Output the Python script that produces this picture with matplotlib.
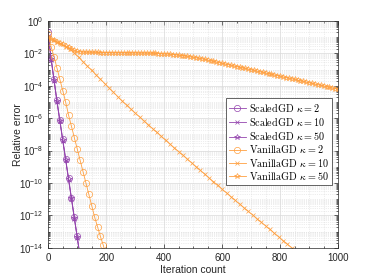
import numpy as np
import matplotlib
matplotlib.use("Agg")
import matplotlib.pyplot as plt
from matplotlib.ticker import LogLocator, MultipleLocator, NullFormatter

# ---------------- data (log10 of relative error) ----------------
sc_iters = [0, 10, 20, 30, 40, 50, 60, 70, 80, 90, 100, 110]
sc_k2 = [-0.7, -2.3, -3.6, -4.9, -6.1, -7.3, -8.5, -9.7, -10.9, -12.1, -13.3, -14.5]
sc_k10 = [-1.0, -2.4, -3.7, -5.0, -6.2, -7.4, -8.6, -9.8, -11.0, -12.2, -13.4, -14.6]
sc_k50 = [-1.0, -2.35, -3.65, -4.95, -6.15, -7.35, -8.55, -9.75, -10.95, -12.15, -13.35, -14.55]

va2_iters = [0, 10, 20, 30, 40, 50, 60, 70, 80, 90, 100, 110, 120, 130, 140, 150,
             160, 170, 180, 190, 200]
va_k2 = [-0.8, -1.6, -2.2, -2.9, -3.6, -4.3, -5.0, -5.8, -6.5, -7.2, -7.9, -8.6,
         -9.3, -10.0, -10.7, -11.4, -12.1, -12.7, -13.3, -13.85, -14.5]

va10_iters = [0, 15, 30, 45, 60, 75, 90, 105, 120, 135, 150, 165, 180, 195, 210,
              225, 240, 255, 270, 285, 300, 315, 330, 345, 360, 375, 390, 405, 420,
              435, 450, 465, 480, 495, 510, 525, 540, 555, 570, 585, 600, 615, 630,
              645, 660, 675, 690, 705, 720, 735, 750, 765, 780, 795, 810, 825, 840, 855]
va_k10 = [-1.0, -1.15, -1.3, -1.45, -1.6, -1.75, -1.97, -2.24, -2.51, -2.78, -3.05,
          -3.32, -3.59, -3.86, -4.13, -4.40, -4.67, -4.93, -5.19, -5.44, -5.68, -5.92,
          -6.16, -6.40, -6.64, -6.88, -7.12, -7.36, -7.60, -7.83, -8.06, -8.29, -8.52,
          -8.76, -8.99, -9.22, -9.46, -9.69, -9.92, -10.15, -10.39, -10.61, -10.84,
          -11.07, -11.30, -11.52, -11.75, -11.97, -12.20, -12.42, -12.65, -12.87,
          -13.10, -13.32, -13.55, -13.77, -14.00, -14.22]

va50_iters = list(range(0, 1001, 10))
va_k50 = [-1.0, -1.09, -1.18, -1.27, -1.36, -1.45, -1.54, -1.63, -1.72, -1.81,
          -1.87, -1.90, -1.92, -1.93, -1.93, -1.94, -1.94, -1.94, -1.95, -1.95,
          -1.95, -1.95, -1.96, -1.96, -1.96, -1.96, -1.96, -1.97, -1.97, -1.97,
          -1.97, -1.98, -1.98, -1.98, -1.99, -1.99, -2.00, -2.00, -2.01, -2.02,
          -2.03, -2.04, -2.05, -2.07, -2.09, -2.11, -2.13, -2.15, -2.18, -2.21,
          -2.24, -2.27, -2.30, -2.33, -2.37, -2.41, -2.45, -2.49, -2.53, -2.57,
          -2.61, -2.65, -2.69, -2.73, -2.77, -2.81, -2.85, -2.89, -2.93, -2.97,
          -3.01, -3.05, -3.09, -3.13, -3.17, -3.21, -3.25, -3.29, -3.33, -3.37,
          -3.41, -3.45, -3.49, -3.53, -3.57, -3.61, -3.65, -3.69, -3.73, -3.77,
          -3.81, -3.85, -3.89, -3.93, -3.97, -4.01, -4.05, -4.09, -4.13, -4.17,
          -4.21]

labels = [r"ScaledGD $\kappa = 2$", r"ScaledGD $\kappa = 10$", r"ScaledGD $\kappa = 50$",
          r"VanillaGD $\kappa = 2$", r"VanillaGD $\kappa = 10$", r"VanillaGD $\kappa = 50$"]

# ---------------- style ----------------
plt.rcParams['font.family'] = ['Liberation Sans', 'DejaVu Sans']
plt.rcParams['mathtext.fontset'] = 'cm'

purple = '#9445AE'
orange = '#FFA040'

fig = plt.figure(figsize=(3.74, 2.80), dpi=100)
ax = fig.add_axes([0.129, 0.115, 0.775, 0.81])

def p(x, y, color, marker, label, ms):
    ax.semilogy(x, 10.0 ** np.array(y), color=color, marker=marker, markersize=ms,
                markerfacecolor='none', markeredgewidth=0.5, linewidth=0.6, label=label)

p(sc_iters, sc_k2, purple, 'o', labels[0], 4.5)
p(sc_iters, sc_k10, purple, 'x', labels[1], 3.2)
p(sc_iters, sc_k50, purple, '*', labels[2], 4.3)
p(va2_iters, va_k2, orange, 'o', labels[3], 4.5)
p(va10_iters, va_k10, orange, 'x', labels[4], 3.2)
p(va50_iters, va_k50, orange, '*', labels[5], 4.3)

ax.set_xlim(0, 1000)
ax.set_ylim(1e-14, 1)
ax.xaxis.set_major_locator(MultipleLocator(200))
ax.xaxis.set_minor_locator(MultipleLocator(50))
ax.yaxis.set_major_locator(LogLocator(base=100.0, numticks=20))
ax.yaxis.set_minor_locator(LogLocator(base=10.0, subs=np.arange(1, 10), numticks=40))
ax.yaxis.set_minor_formatter(NullFormatter())
ax.xaxis.get_offset_text().set_visible(False)
ax.yaxis.get_offset_text().set_visible(False)

ax.grid(True, which='major', color='#d9d9d9', linewidth=0.5, linestyle='-')
ax.grid(True, which='minor', color='#dcdcdc', linewidth=0.5, linestyle=':')
ax.set_axisbelow(True)

ax.tick_params(which='both', direction='in', top=True, right=True, labelsize=7,
               colors='#262626', width=0.5)
ax.tick_params(which='major', length=3)
ax.tick_params(which='minor', length=1.5)
for s in ax.spines.values():
    s.set_linewidth(0.5)
    s.set_color('#262626')

ax.set_xlabel('Iteration count', fontsize=7.5, color='#262626')
ax.set_ylabel('Relative error', fontsize=7.5, color='#262626')
ax.xaxis.set_label_coords(0.5, -0.075)
ax.yaxis.set_label_coords(-0.088, 0.5)

leg = ax.legend(loc='upper right', bbox_to_anchor=(0.978, 0.662), fancybox=False,
                framealpha=1, edgecolor='#262626', prop={'family': 'cmr10', 'size': 7.3},
                handlelength=1.7, handletextpad=0.3, borderpad=0.3, labelspacing=0.12,
                borderaxespad=0.0)
leg.get_frame().set_linewidth(0.5)

fig.savefig('out.png', dpi=100)
